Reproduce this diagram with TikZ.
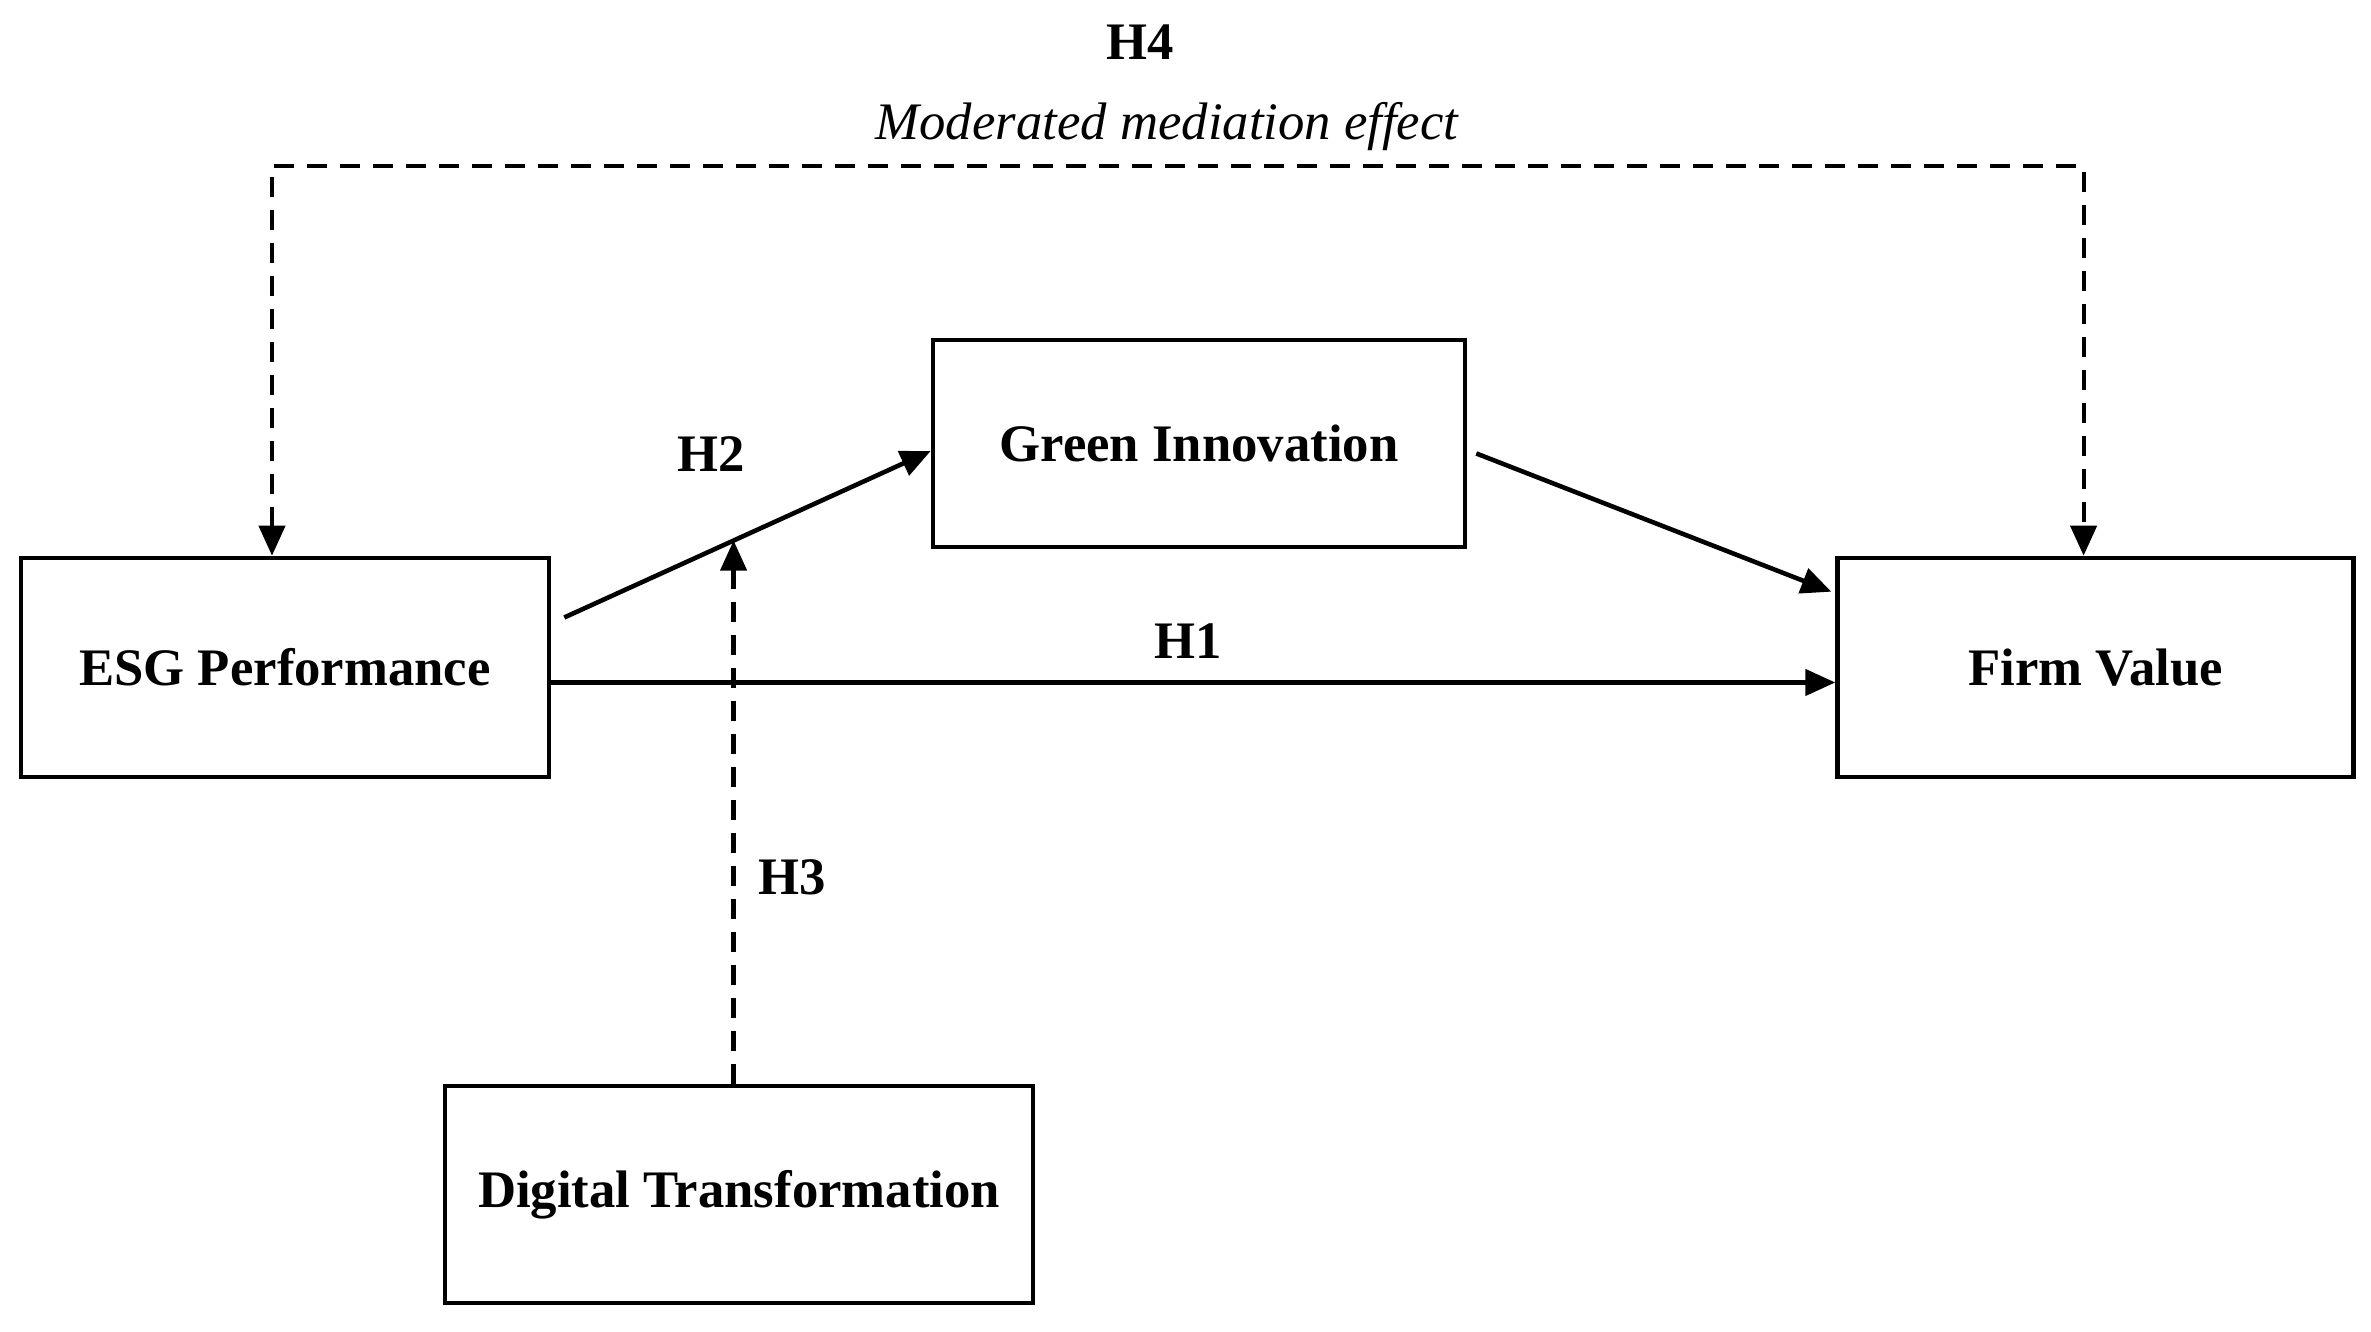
\documentclass[tikz,border=0pt]{standalone}
\usepackage{fontspec}
\setmainfont{Liberation Serif}
\usetikzlibrary{arrows.meta,
                positioning}
\tikzset{%
    block/.style = {rectangle, draw, line width=1.3pt, minimum width=5.28cm,
                    minimum height=2.19cm, align=center,
                    font=\bfseries\fontsize{15}{18}\selectfont},
    lbl/.style = {font=\bfseries\fontsize{15}{18}\selectfont},
    line/.style = {draw, line width=1.3pt, -{Triangle[length=3mm, width=2.6mm]}},
    modline/.style = {draw, line width=1.2pt, dash pattern=on 2mm off 1.3mm}
    }

\begin{document}
\begin{tikzpicture}
\useasboundingbox (0,0) rectangle (23.71,13.32);
\node [block] (esg) at (2.85,6.645) {ESG Performance};
\node [block, right=12.84cm of esg, minimum width=5.16cm] (fv) {Firm Value};
\node [block, minimum width=5.32cm, minimum height=2.07cm] (gi) at (11.99,8.885) {Green Innovation};
\node [block, minimum width=5.88cm, minimum height=2.17cm] (dt) at (7.39,1.375) {Digital Transformation};
% hypotheses
\node [lbl] (h1) at (11.88,6.91) {H1};
\node [lbl] (h2) at (7.11,8.78) {H2};
\node [lbl] (h3) at (7.92,4.55) {H3};
\node [lbl] (h4) at (11.40,12.90) {H4};
\node [below=0.18cm of h4, xshift=0.27cm, font=\itshape\fontsize{15}{18}\selectfont] (mme) {Moderated mediation effect};
\coordinate (h4top) at (12,11.66);
% direct and mediated paths
\draw [line] ([yshift=-1.5mm]esg.east) -- ([yshift=-1.5mm]fv.west);
\draw [line] ([shift={(1.3mm,5mm)}]esg.east) -- coordinate[pos=0.462] (mod) ([yshift=-0.75mm]gi.west);
\draw [line] ([shift={(0.9mm,-1mm)}]gi.east) -- ([shift={(-0.4mm,-3.6mm)}]fv.north west);
% moderation
\draw [modline, -{Triangle[length=3mm, width=2.6mm]}] (dt.north -| mod) -- (mod);
\draw [modline, {Triangle[length=3mm, width=2.6mm]}-{Triangle[length=3mm, width=2.6mm]}]
      ([xshift=-1.3mm]esg.north) |- (h4top) -| ([xshift=-1.2mm]fv.north);
\end{tikzpicture}
\end{document}
